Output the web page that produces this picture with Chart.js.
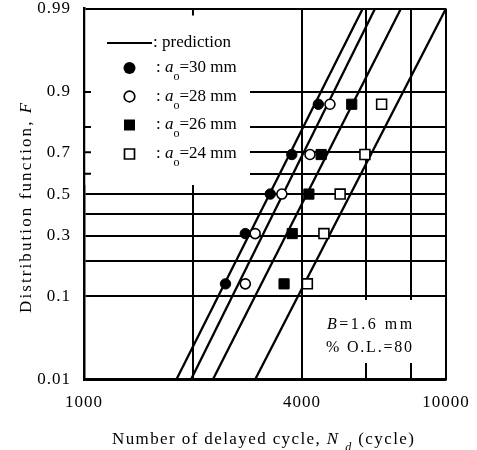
<!DOCTYPE html>
<html>
<head>
<meta charset="utf-8">
<script src="https://cdn.jsdelivr.net/npm/chart.js@4/dist/chart.umd.min.js"></script>
<style>
  html, body { margin: 0; padding: 0; background: #fff; }
  #wrap { width: 477px; height: 450px; }
</style>
</head>
<body>
<div id="wrap"><canvas id="c" width="477" height="450"></canvas></div>
<script>
// ---------------- data ----------------
const rankF = [0.13, 0.31, 0.50, 0.69, 0.87];          // distribution function F of each specimen
const a30 = [2460, 2790, 3270, 3750, 4440];            // a_o = 30 mm, N_d (cycle)
const a28 = [2790, 2970, 3520, 4210, 4780];            // a_o = 28 mm
const a26 = [3570, 3760, 4180, 4520, 5490];            // a_o = 26 mm
const a24 = [4140, 4600, 5100, 5970, 6640];            // a_o = 24 mm

const predF = [0.01, 0.99];                             // ends of prediction lines
const pred30 = [1800, 5890];
const pred28 = [1975, 6370];
const pred26 = [2270, 7510];
const pred24 = [2970, 10000];

const xTicks = [1000, 2000, 4000, 6000, 8000, 10000];
const xTickLabels = ['1000', '', '4000', '', '', '10000'];
const yTicksF = [0.01, 0.1, 0.2, 0.3, 0.4, 0.5, 0.6, 0.7, 0.8, 0.9, 0.99];
const yTickLabels = ['0.01', '0.1', '', '0.3', '', '0.5', '', '0.7', '', '0.9', '0.99'];

// ---------------- normal probability paper transform ----------------
function probit(p) {
  const a = [-3.969683028665376e+01, 2.209460984245205e+02, -2.759285104469687e+02, 1.383577518672690e+02, -3.066479806614716e+01, 2.506628277459239e+00];
  const b = [-5.447609879822406e+01, 1.615858368580409e+02, -1.556989798598866e+02, 6.680131188771972e+01, -1.328068155288572e+01];
  const c = [-7.784894002430293e-03, -3.223964580411365e-01, -2.400758277161838e+00, -2.549732539343734e+00, 4.374664141464968e+00, 2.938163982698783e+00];
  const d = [7.784695709041462e-03, 3.224671290700398e-01, 2.445134137142996e+00, 3.754408661907416e+00];
  const pl = 0.02425, ph = 1 - pl;
  let q, r;
  if (p < pl) {
    q = Math.sqrt(-2 * Math.log(p));
    return (((((c[0]*q+c[1])*q+c[2])*q+c[3])*q+c[4])*q+c[5]) / ((((d[0]*q+d[1])*q+d[2])*q+d[3])*q+1);
  }
  if (p <= ph) {
    q = p - 0.5; r = q * q;
    return (((((a[0]*r+a[1])*r+a[2])*r+a[3])*r+a[4])*r+a[5])*q / (((((b[0]*r+b[1])*r+b[2])*r+b[3])*r+b[4])*r+1);
  }
  q = Math.sqrt(-2 * Math.log(1 - p));
  return -(((((c[0]*q+c[1])*q+c[2])*q+c[3])*q+c[4])*q+c[5]) / ((((d[0]*q+d[1])*q+d[2])*q+d[3])*q+1);
}
const pts = (xs, fs) => xs.map((x, i) => ({ x: x, y: probit(fs[i]) }));

const SERIF = "'Liberation Serif', 'Times New Roman', Times, serif";
Chart.defaults.font.family = SERIF;
Chart.defaults.font.size = 17;
Chart.defaults.color = '#000';

// boxes that hide the grid behind legend and note
const legendBox = { x1: 84, y1: 8, x2: 250, y2: 185 };
const noteBox = { x1: 325, y1: 300, x2: 446, y2: 363 };

function styled(ctx, parts, x, y, spacing) {
  // parts: [text, font, dy]
  let cx = x;
  ctx.letterSpacing = (spacing || 0) + 'px';
  parts.forEach(p => {
    ctx.font = p[1];
    ctx.fillText(p[0], cx, y + (p[2] || 0));
    cx += ctx.measureText(p[0]).width;
  });
  ctx.letterSpacing = '0px';
}

const decor = {
  id: 'decor',
  beforeDraw(chart) {
    chart.ctx.letterSpacing = '1px';   // scanned tick labels are loosely spaced
  },
  beforeDatasetsDraw(chart) {
    const ctx = chart.ctx;
    const ca = chart.chartArea;
    const xs = chart.scales.x, ys = chart.scales.y;
    ctx.save();
    ctx.fillStyle = '#fff';
    ctx.fillRect(ca.left + 1.5, ca.top + 1.5, legendBox.x2 - ca.left - 1.5, legendBox.y2 - ca.top - 1.5);
    ctx.fillRect(noteBox.x1, noteBox.y1, ca.right - 1.5 - noteBox.x1, noteBox.y2 - noteBox.y1);
    // inward ticks left in the hidden parts
    ctx.strokeStyle = '#000';
    ctx.lineWidth = 2;
    ctx.beginPath();
    [0.6, 0.7, 0.8, 0.9].forEach(f => {
      const y = ys.getPixelForValue(probit(f));
      ctx.moveTo(ca.left, y); ctx.lineTo(ca.left + 7, y);
    });
    const x2k = xs.getPixelForValue(2000);
    ctx.moveTo(x2k, ca.top); ctx.lineTo(x2k, ca.top + 7);
    ctx.stroke();
    ctx.restore();
  },
  afterDatasetsDraw(chart) {
    const ctx = chart.ctx;
    ctx.save();
    ctx.fillStyle = '#000';
    ctx.strokeStyle = '#000';
    ctx.textBaseline = 'middle';
    ctx.textAlign = 'left';
    // legend
    ctx.lineWidth = 2.2;
    ctx.beginPath(); ctx.moveTo(107, 43); ctx.lineTo(152, 43); ctx.stroke();
    styled(ctx, [[': prediction', '17px ' + SERIF]], 153, 43);
    const rows = [
      { y: 68, shape: 'circle', fill: true, label: '30' },
      { y: 96.5, shape: 'circle', fill: false, label: '28' },
      { y: 125, shape: 'rect', fill: true, label: '26' },
      { y: 154, shape: 'rect', fill: false, label: '24' }
    ];
    rows.forEach(r => {
      ctx.beginPath();
      if (r.shape === 'circle') ctx.arc(129.5, r.y, r.fill ? 6 : 5.3, 0, Math.PI * 2);
      else ctx.rect(r.fill ? 124 : 124.5, r.y - (r.fill ? 5.5 : 5), r.fill ? 11 : 10, r.fill ? 11 : 10);
      if (r.fill) ctx.fill();
      else { ctx.fillStyle = '#fff'; ctx.fill(); ctx.fillStyle = '#000'; ctx.lineWidth = 1.7; ctx.stroke(); }
      styled(ctx, [[': ', '17px ' + SERIF], ['a', 'italic 17px ' + SERIF], ['o', '12px ' + SERIF, 9], ['=' + r.label + ' mm', '17px ' + SERIF]], 156, r.y);
    });
    // note
    styled(ctx, [['B', 'italic 16px ' + SERIF], ['=1.6 mm', '16px ' + SERIF]], 327, 325, 2.5);
    styled(ctx, [['% O.L.=80', '16px ' + SERIF]], 326, 348, 1.8);
    ctx.restore();
  },
  afterDraw(chart) {
    const ctx = chart.ctx;
    ctx.save();
    ctx.fillStyle = '#000';
    ctx.textAlign = 'left';
    ctx.textBaseline = 'alphabetic';
    // x axis title
    styled(ctx, [['Number of delayed cycle, ', '17px ' + SERIF], ['N', 'italic 17px ' + SERIF], [' ', '17px ' + SERIF], ['d', 'italic 12px ' + SERIF, 7], [' (cycle)', '17px ' + SERIF]], 112, 444, 1.4);
    // y axis title (rotated)
    ctx.translate(31, 313);
    ctx.rotate(-Math.PI / 2);
    styled(ctx, [['Distribution function, ', '17px ' + SERIF], ['F', 'italic 17px ' + SERIF]], 0, 0, 2.1);
    ctx.restore();
  }
};

const lineDs = (data, lbl) => ({
  label: lbl, data: pts(data, predF), showLine: true, borderColor: '#000', borderWidth: 2.3,
  pointRadius: 0, fill: false, tension: 0
});
const ptDs = (data, lbl, style, filled, r) => ({
  label: lbl, data: pts(data, rankF), showLine: false, pointStyle: style,
  pointRadius: r, pointHoverRadius: r, pointBackgroundColor: filled ? '#000' : '#fff',
  pointBorderColor: '#000', pointBorderWidth: filled ? 1 : 1.6
});

new Chart(document.getElementById('c'), {
  type: 'scatter',
  data: {
    datasets: [
      ptDs(a30, 'a_o=30 mm', 'circle', true, 5.2),
      ptDs(a28, 'a_o=28 mm', 'circle', false, 5),
      ptDs(a26, 'a_o=26 mm', 'rect', true, 7.2),
      ptDs(a24, 'a_o=24 mm', 'rect', false, 7),
      lineDs(pred30, 'prediction 30'),
      lineDs(pred28, 'prediction 28'),
      lineDs(pred26, 'prediction 26'),
      lineDs(pred24, 'prediction 24')
    ]
  },
  options: {
    responsive: false,
    devicePixelRatio: 1,
    animation: false,
    events: [],
    layout: { padding: { left: 0, top: 8, right: 31, bottom: 0 } },
    plugins: { legend: { display: false }, tooltip: { enabled: false } },
    scales: {
      x: {
        type: 'logarithmic',
        min: 1000, max: 10000,
        afterBuildTicks: s => { s.ticks = xTicks.map(v => ({ value: v })); },
        afterFit: s => { s.height = 70.5; s.paddingLeft = 0; s.paddingRight = 0; },
        ticks: {
          autoSkip: false, maxRotation: 0, padding: 13,
          font: { size: 17 },
          callback: (v, i) => xTickLabels[i]
        },
        grid: { color: '#000', lineWidth: 2, drawTicks: false },
        border: { color: '#000', width: 2.5 }
      },
      y: {
        type: 'linear',
        min: probit(yTicksF[0]), max: probit(yTicksF[yTicksF.length - 1]),
        afterBuildTicks: s => { s.ticks = yTicksF.map(f => ({ value: probit(f) })); },
        afterFit: s => { s.width = 84; s.paddingTop = 0; s.paddingBottom = 0; },
        ticks: {
          autoSkip: false, padding: 13,
          font: { size: 17 },
          callback: (v, i) => yTickLabels[i]
        },
        grid: { color: '#000', lineWidth: 2, drawTicks: false },
        border: { color: '#000', width: 2.5 }
      }
    }
  },
  plugins: [decor]
});
</script>
</body>
</html>
